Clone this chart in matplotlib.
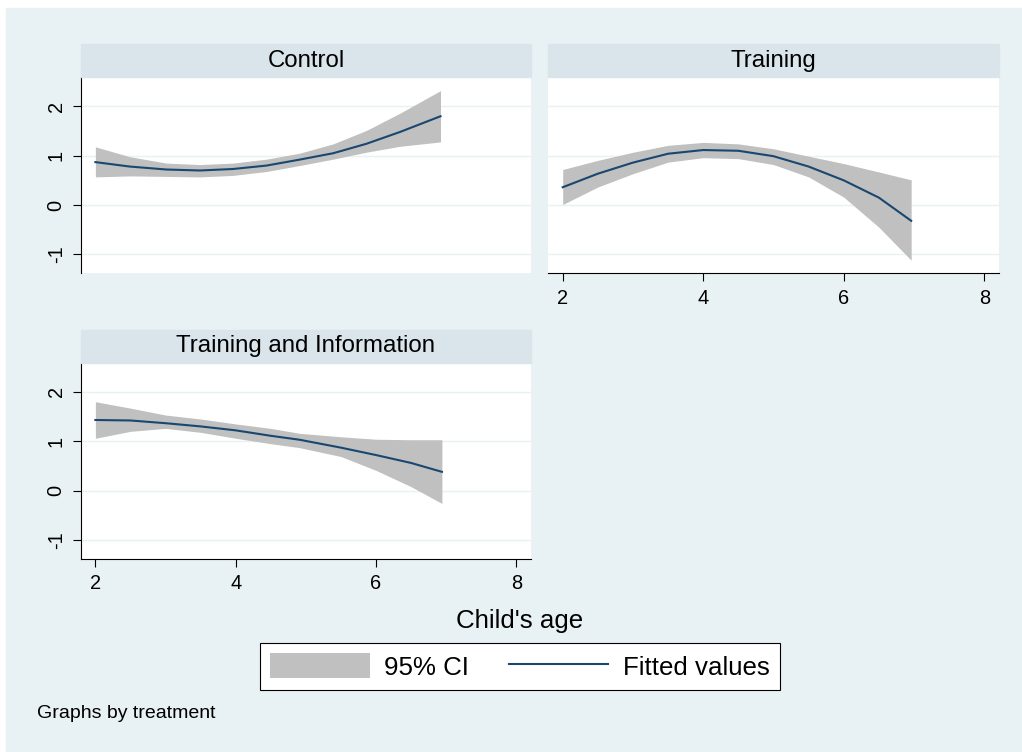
import matplotlib
matplotlib.use("Agg")
import matplotlib.pyplot as plt
from matplotlib.patches import Rectangle

plt.rcParams['font.family'] = ['Liberation Sans', 'DejaVu Sans']
plt.rcParams['axes.unicode_minus'] = False

# child's age vs fitted values and 95% CI
age_c = [2.0, 2.49, 3.01, 3.49, 3.96, 4.44, 4.91, 5.39, 5.86, 6.34, 6.92]
fit_c = [0.87, 0.78, 0.72, 0.70, 0.73, 0.80, 0.92, 1.05, 1.24, 1.48, 1.80]
hi_c = [1.18, 0.98, 0.85, 0.82, 0.85, 0.93, 1.05, 1.24, 1.51, 1.86, 2.32]
lo_c = [0.57, 0.59, 0.58, 0.57, 0.60, 0.68, 0.80, 0.93, 1.07, 1.19, 1.28]

age_t = [2.0, 2.5, 3.0, 3.5, 4.0, 4.5, 5.0, 5.5, 6.0, 6.5, 6.96]
fit_t = [0.36, 0.635, 0.86, 1.04, 1.115, 1.10, 0.99, 0.78, 0.50, 0.15, -0.32]
hi_t = [0.72, 0.905, 1.07, 1.21, 1.27, 1.24, 1.14, 0.99, 0.84, 0.67, 0.51]
lo_t = [0.01, 0.365, 0.635, 0.87, 0.96, 0.94, 0.82, 0.57, 0.16, -0.45, -1.12]

age_ti = [2.0, 2.5, 3.0, 3.5, 4.0, 4.5, 4.91, 5.5, 6.0, 6.5, 6.94]
fit_ti = [1.43, 1.42, 1.365, 1.30, 1.22, 1.11, 1.03, 0.87, 0.72, 0.56, 0.38]
hi_ti = [1.80, 1.67, 1.53, 1.45, 1.35, 1.26, 1.16, 1.09, 1.04, 1.03, 1.03]
lo_ti = [1.06, 1.20, 1.26, 1.18, 1.06, 0.95, 0.87, 0.69, 0.41, 0.08, -0.26]

titles = ['Control', 'Training', 'Training and Information']
xticks = [2, 4, 6, 8]
yticks = [-1, 0, 1, 2]

W, H = 1022, 752
BG = '#e8f1f3'
STRIP = '#d9e5eb'
NAVY = '#1a476f'
CIGRAY = '#c0c0c0'

fig = plt.figure(figsize=(W / 100, H / 100), dpi=100, facecolor='white')
fig.patches.append(Rectangle((6 / W, 0), 1 - 6 / W, 1 - 8 / H,
                             transform=fig.transFigure, color=BG, zorder=-10))


def px_axes(l, t, r, b):
    return fig.add_axes([l / W, 1 - b / H, (r - l) / W, (b - t) / H])


def strip(l, t, r, b, text):
    fig.patches.append(Rectangle((l / W, 1 - b / H), (r - l) / W, (b - t) / H,
                                 transform=fig.transFigure, color=STRIP))
    fig.text((l + r) / 2 / W, 1 - (t + b) / 2 / H, text, ha='center',
             va='center', fontsize=17.3)


boxes = [(81, 77.3, 531, 273.3), (548.3, 77.3, 999, 273.3), (81, 362.7, 531, 559)]
strips = [(81, 44, 531, 77.3), (548.3, 44, 999, 77.3), (81, 330, 531, 362.7)]
data = [(age_c, fit_c, lo_c, hi_c), (age_t, fit_t, lo_t, hi_t),
        (age_ti, fit_ti, lo_ti, hi_ti)]
show_y = [True, False, True]
show_x = [False, True, True]

handles = None
for i in range(3):
    ax = px_axes(*boxes[i])
    strip(*strips[i], titles[i])
    x, f, lo, hi = data[i]
    ci = ax.fill_between(x, lo, hi, color=CIGRAY, linewidth=0, label='95% CI')
    ln, = ax.plot(x, f, color=NAVY, lw=1.5, label='Fitted values')
    handles = [ci, ln]
    ax.set_xlim(1.795, 8.21)
    ax.set_ylim(-1.385, 2.59)
    ax.set_yticks(yticks)
    ax.set_xticks(xticks)
    ax.grid(axis='y', color=BG, lw=1.0)
    ax.set_axisbelow(True)
    for s in ['top', 'right']:
        ax.spines[s].set_visible(False)
    ax.spines['left'].set_visible(show_y[i])
    ax.spines['bottom'].set_visible(show_x[i])
    ax.spines['left'].set_linewidth(0.8)
    ax.spines['bottom'].set_linewidth(0.8)
    ax.tick_params(length=6, width=0.8, labelsize=14.4, pad=5)
    if not show_y[i]:
        ax.tick_params(axis='y', left=False, labelleft=False)
    else:
        for lab in ax.get_yticklabels():
            lab.set_rotation(90)
            lab.set_va('center')
    if not show_x[i]:
        ax.tick_params(axis='x', bottom=False, labelbottom=False)

fig.text(520 / W, 1 - 620.7 / H, "Child's age", ha='center', va='center',
         fontsize=18.6)
fig.text(37.3 / W, 1 - 714 / H, 'Graphs by treatment', ha='left', va='center',
         fontsize=14)

leg = fig.legend(handles, ['95% CI', 'Fitted values'], ncol=2, loc='center',
                 bbox_to_anchor=(520 / W, 1 - 666.5 / H), fontsize=18.6,
                 frameon=True, fancybox=False, edgecolor='black',
                 handlelength=3.84, handleheight=1.09, handletextpad=0.56,
                 columnspacing=1.55, borderpad=0.4)
leg.get_frame().set_linewidth(0.8)
leg.get_frame().set_facecolor('white')
leg.get_frame().set_alpha(1)

fig.savefig('out.png', dpi=100, facecolor=fig.get_facecolor())
